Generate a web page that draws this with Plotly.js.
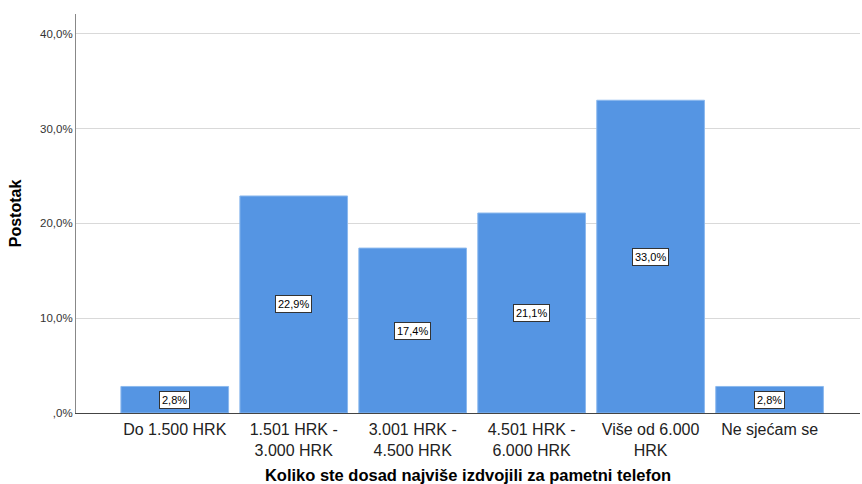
<!DOCTYPE html>
<html><head><meta charset="utf-8">
<script src="https://cdn.plot.ly/plotly-3.0.1.min.js"></script>
<style>body{margin:0;background:#fff}</style>
</head><body>
<div id="chart" style="width:862px;height:484px"></div>
<script>
const categories = ["Do 1.500 HRK", "1.501 HRK -<br>3.000 HRK", "3.001 HRK -<br>4.500 HRK", "4.501 HRK -<br>6.000 HRK", "Više od 6.000<br>HRK", "Ne sjećam se"];
const values = [2.8, 22.9, 17.4, 21.1, 33.0, 2.8];
const valueLabels = ["2,8%", "22,9%", "17,4%", "21,1%", "33,0%", "2,8%"];
const yTickVals = [0, 10, 20, 30, 40];
const yTickText = [",0%", "10,0%", "20,0%", "30,0%", "40,0%"];

const xs = categories.map((c, i) => i);
const font = "Liberation Sans, Arial, sans-serif";

const trace = {
  type: "bar", x: xs, y: values,
  marker: {color: "rgb(85,149,227)", line: {color: "rgb(140,185,238)", width: 1}},
  width: 0.905, hoverinfo: "skip"
};

const annotations = values.map((v, i) => ({
  x: i, y: v / 2, xref: "x", yref: "y", text: valueLabels[i], showarrow: false,
  font: {family: font, size: 11, color: "#000"},
  bgcolor: "#fff", bordercolor: "#333", borderwidth: 1, borderpad: 2
}));

const layout = {
  width: 862, height: 484,
  margin: {l: 76, r: 2, t: 14, b: 71},
  paper_bgcolor: "#fff", plot_bgcolor: "#fff",
  showlegend: false,
  xaxis: {
    range: [-0.83, 5.76], tickvals: xs, ticktext: categories,
    showgrid: false, zeroline: false, showline: true, linecolor: "#444", linewidth: 1,
    ticks: "", ticklabelstandoff: 2, tickfont: {family: font, size: 16, color: "#222"},
    title: {text: "Koliko ste dosad najviše izdvojili za pametni telefon", font: {family: font, size: 16.5, color: "#000", weight: "bold"}, standoff: 12}
  },
  yaxis: {
    range: [0, 42.1], tickvals: yTickVals, ticktext: yTickText,
    showgrid: true, gridcolor: "#d9d9d9", gridwidth: 1, zeroline: false,
    showline: true, linecolor: "#888", linewidth: 1, ticks: "",
    tickfont: {family: font, size: 11.5, color: "#333"},
    title: {text: "Postotak", font: {family: font, size: 16, color: "#000", weight: "bold"}, standoff: 14}
  },
  annotations: annotations
};

Plotly.newPlot("chart", [trace], layout, {displayModeBar: false, staticPlot: true});
</script>
</body></html>
